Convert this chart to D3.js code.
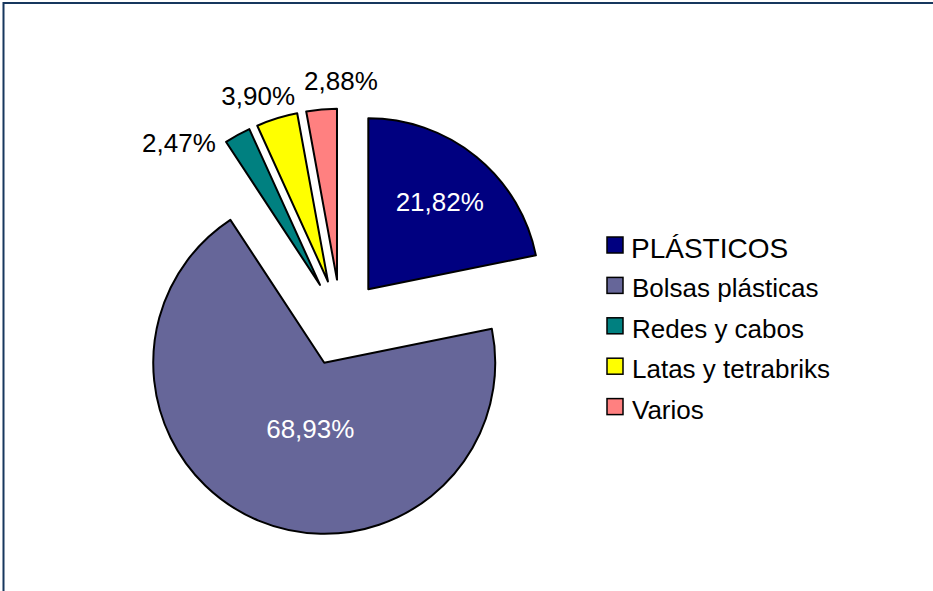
<!DOCTYPE html>
<html>
<head>
<meta charset="utf-8">
<script src="https://cdn.jsdelivr.net/npm/d3@7"></script>
<style>
  body { margin: 0; background: #fff; }
  svg { display: block; font-family: Arial, "Liberation Sans", sans-serif; }
</style>
</head>
<body>
<div id="chart"></div>
<script>
// data
const categories = ["PLÁSTICOS", "Bolsas plásticas", "Redes y cabos", "Latas y tetrabriks", "Varios"];
const values = [21.82, 68.93, 2.47, 3.90, 2.88];
const colors = ["#000080", "#666699", "#008080", "#ffff00", "#ff8080"];

function createPieChart() {
  var width = 933, height = 591;
  var cx = 340.9, cy = 322.8, radius = 171, explode = 43.3;

  var svg = d3.select("#chart")
    .append("svg")
    .attr("width", width)
    .attr("height", height);

  // frame (only top and left edges are inside the picture)
  svg.append("rect")
    .attr("x", 3.5).attr("y", 3)
    .attr("width", 1200).attr("height", 1200)
    .attr("fill", "none")
    .attr("stroke", "#17375e")
    .attr("stroke-width", 2);

  var data = categories.map(function (c, i) { return { name: c, value: values[i], color: colors[i] }; });

  var pie = d3.pie().sort(null).value(function (d) { return d.value; });
  var arc = d3.arc().innerRadius(0).outerRadius(radius);
  var arcs = pie(data);

  var g = svg.append("g").attr("transform", "translate(" + cx + "," + cy + ")");

  function dir(a) { return [Math.sin(a), -Math.cos(a)]; }
  function mid(d) { return (d.startAngle + d.endAngle) / 2; }

  var slices = g.selectAll(".slice")
    .data(arcs)
    .enter().append("g")
    .attr("class", "slice")
    .attr("transform", function (d) {
      var v = dir(mid(d));
      return "translate(" + v[0] * explode + "," + v[1] * explode + ")";
    });

  slices.append("path")
    .attr("d", arc)
    .attr("fill", function (d) { return d.data.color; })
    .attr("stroke", "#000")
    .attr("stroke-width", 2)
    .attr("stroke-linejoin", "round");

  var fmt = function (v) { return v.toFixed(2).replace(".", ",") + "%"; };

  // big slices: label inside (fraction of radius, angle nudge in degrees)
  var inside = { 0: [0.66, 0], 1: [0.395, -10.7] };
  slices.filter(function (d, i) { return inside[i]; })
    .append("text")
    .attr("transform", function (d, i) {
      var k = inside[d.index];
      var v = dir(mid(d) + k[1] * Math.PI / 180);
      return "translate(" + v[0] * radius * k[0] + "," + v[1] * radius * k[0] + ")";
    })
    .attr("dy", "0.36em")
    .attr("text-anchor", "middle")
    .attr("font-size", 26)
    .attr("fill", "#fff")
    .text(function (d) { return fmt(d.data.value); });

  // small slices: labels outside, spread apart so they do not overlap
  var small = arcs.filter(function (d) { return !inside[d.index]; });
  var gaps = [22, 20].map(function (a) { return a * Math.PI / 180; });
  var top = 2 * Math.PI;
  var ang = small.map(mid);
  for (var i = 1; i < ang.length; i++) ang[i] = Math.max(ang[i], ang[i - 1] + gaps[i - 1]);
  if (ang[ang.length - 1] > top) ang[ang.length - 1] = top;
  for (var j = ang.length - 2; j >= 0; j--) ang[j] = Math.min(ang[j], ang[j + 1] - gaps[j]);
  var labelR = 242;

  g.selectAll(".outlabel")
    .data(small)
    .enter().append("text")
    .attr("class", "outlabel")
    .attr("x", function (d, i) { return dir(ang[i])[0] * labelR; })
    .attr("y", function (d, i) { return dir(ang[i])[1] * labelR; })
    .attr("dy", "0.36em")
    .attr("text-anchor", "middle")
    .attr("font-size", 26)
    .attr("fill", "#000")
    .text(function (d) { return fmt(d.data.value); });

  // legend
  var legend = svg.selectAll(".legend")
    .data(data)
    .enter().append("g")
    .attr("class", "legend")
    .attr("transform", function (d, i) { return "translate(607," + (245 + i * 40.4) + ")"; });

  legend.append("rect")
    .attr("x", 0).attr("y", -8)
    .attr("width", 16).attr("height", 16)
    .attr("fill", function (d) { return d.color; })
    .attr("stroke", "#000")
    .attr("stroke-width", 1.5);

  legend.append("text")
    .attr("x", function (d, i) { return i === 0 ? 24 : 25; })
    .attr("y", function (d, i) { return i === 0 ? 13 : 12; })
    .attr("font-size", function (d, i) { return i === 0 ? 28 : 26; })
    .attr("fill", "#000")
    .text(function (d) { return d.name; });
}

createPieChart();
</script>
</body>
</html>
